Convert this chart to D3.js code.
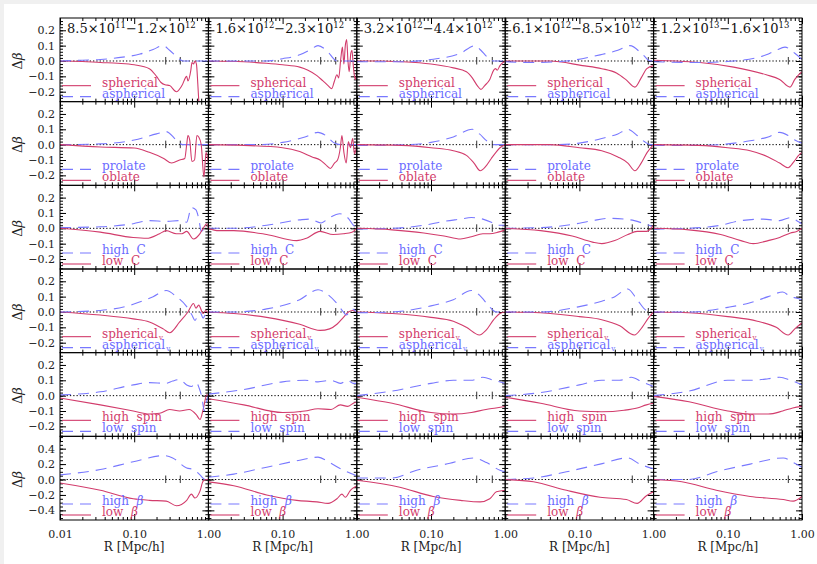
<!DOCTYPE html>
<html lang="en">
<head>
<meta charset="UTF-8">
<title>Delta beta profiles</title>
<script src="https://d3js.org/d3.v7.min.js"></script>
<style>
  body { margin: 0; background: #f0f0f0; }
  svg text { font-family: "DejaVu Serif", serif; }
</style>
</head>
<body>
<div id="chart"></div>
<script>
// mass bins (column titles)
var massLo = [["8.5","11"],["1.6","12"],["3.2","12"],["6.1","12"],["1.2","13"]];
var massHi = [["1.2","12"],["2.3","12"],["4.4","12"],["8.5","12"],["1.6","13"]];
// little vertical marks on the zero line, per column
var markR = [[0.266,0.418],[0.326,0.52],[0.413,0.67],[0.516,0.849],[0.654]];

var xMajor = [0.01, 0.1, 1];
var xMinor = [0.02,0.03,0.04,0.05,0.06,0.07,0.08,0.09,0.2,0.3,0.4,0.5,0.6,0.7,0.8,0.9];
var yMajorSmall = [-0.2,-0.1,0,0.1,0.2];
var yMajorBig = [-0.4,-0.2,0,0.2,0.4];

// each series: one list of [R, dBeta] per mass column
var spherical = [
  [[0.01,0],[0.02,-0.003],[0.035,-0.01],[0.06,-0.015],[0.1,-0.025],[0.16,-0.05],[0.2,-0.1],[0.23,-0.14],[0.26,-0.155],[0.3,-0.16],[0.37,-0.2],[0.44,-0.16],[0.51,-0.1],[0.53,-0.13],[0.58,-0.06],[0.6,-0.01],[0.63,-0.02],[0.66,0.0],[0.69,-0.02],[0.72,-0.15],[0.75,-0.3]],
  [[0.01,0],[0.03,-0.005],[0.06,-0.015],[0.1,-0.025],[0.17,-0.04],[0.22,-0.06],[0.29,-0.095],[0.35,-0.13],[0.41,-0.16],[0.46,-0.18],[0.5,-0.13],[0.54,-0.09],[0.57,-0.11],[0.61,0.02],[0.64,0.09],[0.67,-0.02],[0.7,0.1],[0.73,0.14],[0.76,0.0],[0.79,-0.07],[0.83,0.05],[0.86,0.07],[0.9,-0.04],[0.95,-0.12],[1.0,-0.08]],
  [[0.01,0],[0.02,0],[0.04,-0.005],[0.1,-0.02],[0.2,-0.045],[0.3,-0.07],[0.36,-0.11],[0.42,-0.16],[0.47,-0.185],[0.53,-0.16],[0.62,-0.12],[0.7,-0.06],[0.74,-0.05],[0.78,-0.06],[0.85,-0.03],[1.0,0.0]],
  [[0.01,0],[0.04,0],[0.11,-0.03],[0.2,-0.05],[0.32,-0.08],[0.42,-0.12],[0.56,-0.17],[0.68,-0.11],[0.81,-0.05],[1.0,-0.03]],
  [[0.01,0.005],[0.02,0],[0.042,-0.01],[0.12,-0.04],[0.33,-0.09],[0.5,-0.12],[0.69,-0.17],[0.8,-0.12],[0.9,-0.09],[1.0,-0.07]]
];
var aspherical = [
  [[0.01,0.0],[0.02,0.005],[0.035,0.01],[0.07,0.025],[0.12,0.045],[0.18,0.075],[0.245,0.1],[0.3,0.07],[0.39,0.02],[0.45,0.0],[1.0,0.0]],
  [[0.01,0],[0.06,0],[0.1,0.015],[0.17,0.04],[0.24,0.075],[0.3,0.1],[0.39,0.07],[0.54,0.0],[1.0,0.0]],
  [[0.01,-0.005],[0.04,-0.005],[0.1,0.01],[0.25,0.05],[0.39,0.1],[0.47,0.07],[0.56,0.03],[0.7,0.0],[1.0,0.0]],
  [[0.01,-0.005],[0.024,-0.01],[0.067,0],[0.19,0.04],[0.33,0.07],[0.48,0.1],[0.72,0.04],[0.9,0.0],[1.0,0.0]],
  [[0.01,-0.005],[0.042,-0.01],[0.12,0.0],[0.33,0.04],[0.45,0.07],[0.59,0.09],[0.8,0.05],[1.0,0.01]]
];
var oblate = [
  [[0.01,0],[0.035,-0.015],[0.1,-0.022],[0.16,-0.05],[0.25,-0.09],[0.32,-0.12],[0.41,-0.1],[0.48,-0.09],[0.51,0.0],[0.53,0.06],[0.56,0.03],[0.6,-0.11],[0.65,-0.1],[0.7,0.06],[0.74,0.05],[0.8,0.0],[0.87,-0.21],[0.93,-0.05],[1.0,-0.12]],
  [[0.01,0],[0.03,-0.005],[0.1,-0.02],[0.17,-0.045],[0.25,-0.08],[0.32,-0.1],[0.38,-0.13],[0.44,-0.155],[0.5,-0.12],[0.55,-0.1],[0.6,-0.02],[0.63,0.06],[0.67,-0.05],[0.72,-0.12],[0.77,0.02],[0.82,-0.02],[0.88,0.04],[0.93,-0.06],[1.0,0.0]],
  [[0.01,0],[0.04,-0.005],[0.1,-0.02],[0.2,-0.04],[0.3,-0.07],[0.38,-0.12],[0.46,-0.17],[0.55,-0.14],[0.65,-0.09],[0.75,-0.05],[0.85,-0.02],[1.0,0.0]],
  [[0.01,0],[0.04,0],[0.1,-0.02],[0.2,-0.04],[0.33,-0.08],[0.45,-0.12],[0.56,-0.17],[0.68,-0.12],[0.82,-0.05],[1.0,0.0]],
  [[0.01,0.0],[0.04,-0.005],[0.1,-0.02],[0.2,-0.04],[0.35,-0.08],[0.5,-0.12],[0.65,-0.15],[0.78,-0.11],[0.9,-0.07],[1.0,-0.05]]
];
var prolate = [
  [[0.01,0],[0.035,0.005],[0.1,0.03],[0.2,0.07],[0.27,0.085],[0.37,0.03],[0.45,0.0],[1.0,0.0]],
  [[0.01,0],[0.05,0.0],[0.1,0.015],[0.2,0.05],[0.3,0.08],[0.38,0.06],[0.5,0.01],[0.6,0.0],[1.0,0.0]],
  [[0.01,-0.005],[0.05,0.0],[0.1,0.015],[0.2,0.05],[0.36,0.1],[0.45,0.07],[0.58,0.02],[0.7,0.0],[1.0,0.0]],
  [[0.01,0.0],[0.05,0.0],[0.1,0.01],[0.2,0.04],[0.33,0.07],[0.45,0.1],[0.6,0.06],[0.75,0.02],[0.9,0.0],[1.0,0.0]],
  [[0.01,-0.005],[0.04,-0.005],[0.1,0.005],[0.2,0.025],[0.35,0.05],[0.5,0.08],[0.65,0.06],[0.8,0.03],[1.0,0.01]]
];
var lowC = [
  [[0.01,0],[0.035,-0.025],[0.097,-0.06],[0.147,-0.065],[0.22,-0.035],[0.27,-0.015],[0.37,-0.035],[0.44,-0.035],[0.51,-0.02],[0.63,-0.07],[0.77,-0.035],[0.85,0.0],[0.95,0.03],[1.0,0.0]],
  [[0.01,0.0],[0.013,-0.015],[0.022,-0.015],[0.061,-0.04],[0.155,-0.08],[0.21,-0.065],[0.32,-0.02],[0.48,-0.04],[0.66,-0.035],[0.86,-0.025],[1.0,0.0]],
  [[0.01,0],[0.03,-0.01],[0.08,-0.03],[0.15,-0.05],[0.25,-0.07],[0.35,-0.055],[0.5,-0.035],[0.62,-0.035],[0.8,-0.025],[1.0,-0.01]],
  [[0.01,0],[0.03,-0.015],[0.08,-0.05],[0.15,-0.09],[0.2,-0.1],[0.3,-0.08],[0.45,-0.04],[0.6,-0.02],[0.8,-0.02],[1.0,0.02]],
  [[0.01,0.0],[0.03,-0.01],[0.08,-0.04],[0.15,-0.08],[0.22,-0.1],[0.35,-0.08],[0.5,-0.06],[0.7,-0.03],[0.85,-0.02],[1.0,0.0]]
];
var highC = [
  [[0.01,0.005],[0.035,0.01],[0.097,0.03],[0.16,0.05],[0.27,0.045],[0.41,0.05],[0.51,0.04],[0.59,0.135],[0.68,0.12],[0.75,0.05],[0.8,-0.02],[0.9,0.0],[1.0,0.0]],
  [[0.01,0.0],[0.022,0.0],[0.061,0.02],[0.17,0.055],[0.23,0.06],[0.33,0.035],[0.43,0.07],[0.59,0.095],[0.77,0.065],[0.9,0.02],[1.0,0.01]],
  [[0.01,-0.005],[0.03,0.0],[0.08,0.02],[0.15,0.045],[0.25,0.06],[0.35,0.07],[0.5,0.06],[0.65,0.04],[0.8,0.02],[1.0,0.02]],
  [[0.01,0.0],[0.03,0.005],[0.08,0.025],[0.15,0.05],[0.25,0.065],[0.4,0.06],[0.55,0.05],[0.75,0.03],[1.0,0.01]],
  [[0.01,-0.005],[0.03,0.0],[0.08,0.02],[0.15,0.05],[0.3,0.06],[0.5,0.05],[0.7,0.07],[0.85,0.05],[1.0,0.03]]
];
var sphericalV = [
  [[0.01,0],[0.035,-0.02],[0.097,-0.045],[0.16,-0.065],[0.246,-0.11],[0.3,-0.135],[0.41,-0.065],[0.53,0.0],[0.63,0.055],[0.68,0.025],[0.74,0.045],[0.85,-0.01],[0.92,0.01],[1.0,-0.01]],
  [[0.01,0],[0.022,-0.01],[0.061,-0.035],[0.17,-0.08],[0.32,-0.12],[0.43,-0.11],[0.54,-0.08],[0.66,-0.035],[0.77,0.0],[0.88,0.01],[1.0,0.0]],
  [[0.01,0],[0.03,-0.01],[0.1,-0.035],[0.2,-0.06],[0.3,-0.1],[0.45,-0.15],[0.55,-0.12],[0.7,-0.05],[0.85,-0.01],[1.0,0.0]],
  [[0.01,0],[0.03,-0.005],[0.1,-0.03],[0.2,-0.05],[0.35,-0.09],[0.55,-0.15],[0.7,-0.1],[0.85,-0.04],[1.0,0.0]],
  [[0.01,0.0],[0.03,-0.005],[0.1,-0.03],[0.25,-0.06],[0.45,-0.1],[0.65,-0.15],[0.8,-0.11],[1.0,-0.07]]
];
var asphericalV = [
  [[0.01,0],[0.035,0.01],[0.097,0.05],[0.18,0.1],[0.27,0.14],[0.37,0.1],[0.51,0.035],[0.6,-0.02],[0.66,-0.055],[0.72,-0.02],[0.77,0.0],[0.85,-0.04],[0.95,0.0],[1.0,0.0]],
  [[0.01,0],[0.022,0.0],[0.061,0.02],[0.17,0.08],[0.3,0.145],[0.39,0.12],[0.54,0.055],[0.66,0.0],[0.72,-0.02],[0.86,0.02],[1.0,0.0]],
  [[0.01,-0.005],[0.03,0.0],[0.1,0.04],[0.2,0.08],[0.35,0.14],[0.45,0.11],[0.6,0.04],[0.75,0.0],[1.0,0.0]],
  [[0.01,0.0],[0.03,0.0],[0.1,0.035],[0.2,0.07],[0.3,0.1],[0.45,0.15],[0.6,0.08],[0.8,0.01],[1.0,0.0]],
  [[0.01,0.0],[0.03,0.0],[0.1,0.03],[0.2,0.06],[0.35,0.1],[0.55,0.13],[0.7,0.1],[0.85,0.09],[1.0,0.08]]
];
var highSpin = [
  [[0.01,-0.015],[0.035,-0.06],[0.097,-0.1],[0.16,-0.12],[0.22,-0.115],[0.3,-0.09],[0.41,-0.1],[0.55,-0.09],[0.69,-0.125],[0.77,-0.155],[0.85,-0.09],[0.95,0.005],[1.0,0.0]],
  [[0.01,-0.02],[0.03,-0.06],[0.1,-0.11],[0.2,-0.1],[0.3,-0.085],[0.45,-0.09],[0.6,-0.06],[0.75,-0.07],[0.9,-0.05],[1.0,-0.04]],
  [[0.01,-0.01],[0.03,-0.05],[0.1,-0.11],[0.2,-0.12],[0.35,-0.11],[0.55,-0.09],[0.75,-0.08],[1.0,-0.07]],
  [[0.01,-0.01],[0.03,-0.05],[0.1,-0.1],[0.2,-0.105],[0.4,-0.095],[0.6,-0.08],[0.8,-0.06],[1.0,-0.05]],
  [[0.01,-0.005],[0.03,-0.04],[0.1,-0.1],[0.2,-0.12],[0.35,-0.12],[0.55,-0.1],[0.75,-0.08],[1.0,-0.07]]
];
var lowSpin = [
  [[0.01,0.005],[0.035,0.025],[0.097,0.07],[0.16,0.085],[0.27,0.08],[0.33,0.095],[0.41,0.105],[0.51,0.07],[0.59,0.06],[0.69,0.085],[0.75,0.05],[0.82,-0.015],[0.88,-0.1],[0.93,-0.05],[1.0,0.0]],
  [[0.01,0.01],[0.03,0.04],[0.1,0.09],[0.2,0.1],[0.3,0.09],[0.45,0.1],[0.6,0.08],[0.75,0.1],[0.9,0.08],[1.0,0.08]],
  [[0.01,0.0],[0.03,0.03],[0.1,0.08],[0.2,0.1],[0.35,0.1],[0.5,0.12],[0.7,0.1],[1.0,0.08]],
  [[0.01,0.0],[0.03,0.02],[0.1,0.07],[0.2,0.1],[0.35,0.1],[0.5,0.12],[0.7,0.09],[1.0,0.06]],
  [[0.01,0.0],[0.03,0.03],[0.1,0.1],[0.2,0.1],[0.35,0.11],[0.5,0.12],[0.7,0.1],[1.0,0.07]]
];
var lowBeta = [
  [[0.01,-0.045],[0.035,-0.14],[0.097,-0.25],[0.16,-0.27],[0.27,-0.28],[0.37,-0.34],[0.51,-0.27],[0.59,-0.19],[0.66,-0.24],[0.77,-0.15],[0.85,-0.02],[0.95,0.0],[1.0,0.0]],
  [[0.01,-0.03],[0.022,-0.08],[0.061,-0.2],[0.155,-0.27],[0.29,-0.29],[0.41,-0.31],[0.54,-0.25],[0.63,-0.19],[0.7,-0.23],[0.82,-0.14],[1.0,-0.08]],
  [[0.01,-0.01],[0.038,-0.1],[0.107,-0.22],[0.25,-0.27],[0.46,-0.29],[0.62,-0.25],[0.76,-0.16],[1.0,-0.14]],
  [[0.01,0.0],[0.024,-0.03],[0.067,-0.14],[0.19,-0.23],[0.43,-0.26],[0.6,-0.31],[0.8,-0.21],[1.0,-0.16]],
  [[0.01,0.0],[0.024,-0.03],[0.07,-0.14],[0.2,-0.22],[0.56,-0.26],[0.76,-0.28],[1.0,-0.22]]
];
var highBeta = [
  [[0.01,0.06],[0.035,0.13],[0.097,0.23],[0.25,0.31],[0.33,0.28],[0.51,0.15],[0.63,0.13],[0.77,0.06],[0.9,0.0],[1.0,0.0]],
  [[0.01,0.03],[0.022,0.07],[0.061,0.16],[0.17,0.25],[0.3,0.29],[0.43,0.22],[0.66,0.12],[1.0,0.05]],
  [[0.01,0.02],[0.03,0.02],[0.064,0.12],[0.18,0.21],[0.37,0.28],[0.56,0.22],[0.85,0.12],[1.0,0.1]],
  [[0.01,0.0],[0.024,0.02],[0.067,0.1],[0.19,0.2],[0.45,0.28],[0.65,0.2],[1.0,0.14]],
  [[0.01,0.0],[0.03,0.0],[0.07,0.1],[0.2,0.2],[0.56,0.28],[0.76,0.22],[1.0,0.16]]
];

var RED = "#d23c6c", BLUE = "#7878ff", BLUETXT = "#6a6aff";

// rows: legend order top to bottom, with the series
var rows = [
  { items: [{s: spherical, c: "r", t: "spherical"}, {s: aspherical, c: "b", t: "aspherical"}], big: false },
  { items: [{s: prolate, c: "b", t: "prolate"}, {s: oblate, c: "r", t: "oblate"}], big: false },
  { items: [{s: highC, c: "b", t: "high  C"}, {s: lowC, c: "r", t: "low  C"}], big: false },
  { items: [{s: sphericalV, c: "r", t: "spherical", sub: "v"}, {s: asphericalV, c: "b", t: "aspherical", sub: "v"}], big: false },
  { items: [{s: highSpin, c: "r", t: "high  spin"}, {s: lowSpin, c: "b", t: "low  spin"}], big: false },
  { items: [{s: highBeta, c: "b", t: "high  ", beta: true}, {s: lowBeta, c: "r", t: "low  ", beta: true}], big: true }
];

var W = 817, H = 564;
var plotL = 60, plotT = 18, plotR = 802, plotB = 520;
var cw = (plotR - plotL) / 5, rh = (plotB - plotT) / 6;

var svg = d3.select("#chart").append("svg")
    .attr("width", W).attr("height", H);
svg.append("rect").attr("x", 4).attr("y", 4).attr("width", W - 4).attr("height", H - 4).attr("fill", "#fff");

var fmtY = d3.format(".1f"), fmtX = d3.format(".2f");

function axisG(axis, tx, ty) {
    var g = svg.append("g").attr("transform", "translate(" + tx + "," + ty + ")").call(axis);
    g.select(".domain").remove();
    g.attr("font-family", "DejaVu Serif").attr("font-size", 11);
    g.selectAll("line").attr("stroke", "#000");
    g.selectAll("text").attr("fill", "#222");
    return g;
}

rows.forEach(function (row, ri) {
    var y0 = plotT + ri * rh;
    var dom = row.big ? [-0.525, 0.56] : [-0.265, 0.28];
    var y = d3.scaleLinear().domain(dom).range([y0 + rh, y0]);
    var yMajor = row.big ? yMajorBig : yMajorSmall;
    var yMinor = row.big ? d3.range(-10, 12).map(function (i) { return i * 0.05; })
                         : d3.range(-13, 15).map(function (i) { return i * 0.02; });
    yMinor = yMinor.filter(function (v) { return v > dom[0] && v < dom[1]; });

    for (var ci = 0; ci < 5; ci++) {
        var x0 = plotL + ci * cw;
        var x = d3.scaleLog().domain([0.01, 1]).range([x0, x0 + cw]);

        // ticks, all pointing inward
        axisG(d3.axisBottom(x).tickValues(xMinor).tickSize(-3).tickFormat(""), 0, y0 + rh);
        axisG(d3.axisTop(x).tickValues(xMinor).tickSize(-3).tickFormat(""), 0, y0);
        axisG(d3.axisTop(x).tickValues(xMajor).tickSize(-6).tickFormat(""), 0, y0);
        (function (ci) {
            axisG(d3.axisBottom(x).tickValues(xMajor).tickSize(-6).tickPadding(10)
                .tickFormat(function (d) { return (ri == 5 && (ci == 0 || d > 0.01)) ? fmtX(d) : ""; }), 0, y0 + rh);
            axisG(d3.axisLeft(y).tickValues(yMajor).tickSize(-6).tickPadding(5)
                .tickFormat(function (d) { return ci == 0 ? fmtY(d) : ""; }), x0, 0);
        })(ci);
        axisG(d3.axisLeft(y).tickValues(yMinor).tickSize(-3).tickFormat(""), x0, 0);
        axisG(d3.axisRight(y).tickValues(yMinor).tickSize(-3).tickFormat(""), x0 + cw, 0);
        axisG(d3.axisRight(y).tickValues(yMajor).tickSize(-6).tickFormat(""), x0 + cw, 0);

        // zero line and marks
        svg.append("line").attr("x1", x0).attr("x2", x0 + cw).attr("y1", y(0)).attr("y2", y(0))
            .attr("stroke", "#000").attr("stroke-width", 1).attr("stroke-dasharray", "1.3,2");
        markR[ci].forEach(function (r) {
            svg.append("line").attr("x1", x(r)).attr("x2", x(r)).attr("y1", y(0) - 4).attr("y2", y(0) + 3.5)
                .attr("stroke", "#333").attr("stroke-width", 1);
        });

        // curves
        var cid = "clip-" + ri + "-" + ci;
        svg.append("clipPath").attr("id", cid).append("rect")
            .attr("x", x0).attr("y", y0).attr("width", cw).attr("height", rh);
        var line = d3.line().x(function (d) { return x(d[0]); }).y(function (d) { return y(d[1]); })
            .curve(d3.curveMonotoneX);
        row.items.forEach(function (it) {
            svg.append("path").datum(it.s[ci]).attr("d", line).attr("clip-path", "url(#" + cid + ")")
                .attr("fill", "none").attr("stroke", it.c == "r" ? RED : BLUE).attr("stroke-width", 1.1)
                .attr("stroke-dasharray", it.c == "r" ? null : "11,7");
        });

        // legend
        row.items.forEach(function (it, k) {
            var ly = y0 + rh - (k == 0 ? 16 : 5);
            svg.append("line").attr("x1", x0 + 2).attr("x2", x0 + 31).attr("y1", ly).attr("y2", ly)
                .attr("stroke", it.c == "r" ? RED : BLUE).attr("stroke-width", 1.1)
                .attr("stroke-dasharray", it.c == "r" ? null : "11,7");
            var t = svg.append("text").attr("x", x0 + 42).attr("y", ly + 1)
                .attr("font-size", 12).attr("fill", it.c == "r" ? RED : BLUETXT)
                .style("white-space", "pre");
            t.append("tspan").text(it.t);
            if (it.sub) t.append("tspan").attr("font-size", 7).attr("dx", 1).attr("dy", 2).text(it.sub);
            if (it.beta) t.append("tspan").attr("font-style", "italic").text("β");
        });

        // column titles on top row
        if (ri == 0) {
            var tt = svg.append("text").attr("x", x0 + 7).attr("y", y0 + 15).attr("font-size", 13).attr("fill", "#111");
            tt.append("tspan").text(massLo[ci][0] + "×10");
            tt.append("tspan").attr("font-size", 8.5).attr("dy", -5).text(massLo[ci][1]);
            tt.append("tspan").attr("dy", 5).text("−" + massHi[ci][0] + "×10");
            tt.append("tspan").attr("font-size", 8.5).attr("dy", -5).text(massHi[ci][1]);
        }
        // x axis title
        if (ri == 5) {
            svg.append("text").attr("x", x0 + cw / 2).attr("y", 551).attr("text-anchor", "middle")
                .attr("font-size", 12).attr("fill", "#222").text("R [Mpc/h]");
        }
        // frame
        svg.append("rect").attr("x", x0).attr("y", y0).attr("width", cw).attr("height", rh)
            .attr("fill", "none").attr("stroke", "#000").attr("stroke-width", 1);
    }

    // y axis title
    var yt = svg.append("text").attr("transform", "translate(22," + (y(0)) + ") rotate(-90)")
        .attr("text-anchor", "middle").attr("font-size", 13).attr("fill", "#222");
    yt.append("tspan").text("Δ");
    yt.append("tspan").attr("font-style", "italic").text("β");
});
</script>
</body>
</html>
